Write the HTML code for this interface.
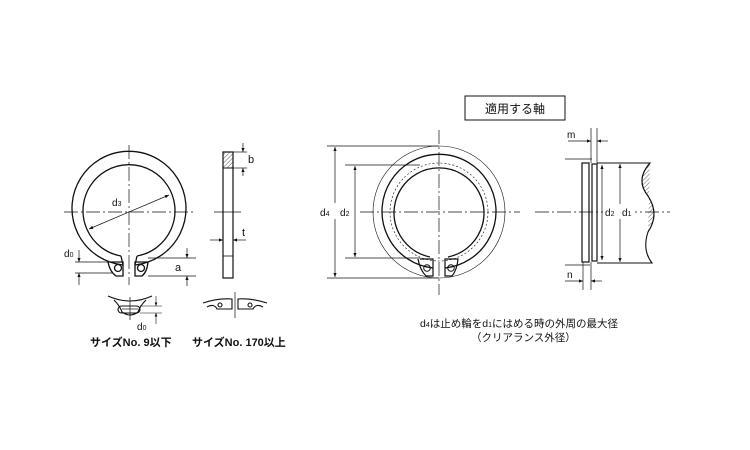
<!DOCTYPE html>
<html><head><meta charset="utf-8"><style>
html,body{margin:0;padding:0;background:#fff}
svg{display:block}
text{font-family:"Liberation Sans","Noto Sans CJK JP",sans-serif;fill:#111}
</style></head><body>
<svg width="750" height="450" viewBox="0 0 750 450" xmlns="http://www.w3.org/2000/svg">
<defs>
<marker id="a" viewBox="0 0 10 10" refX="10" refY="5" markerWidth="6" markerHeight="6" orient="auto-start-reverse"><path d="M0,1 L10,5 L0,9z" fill="#111"/></marker>
<pattern id="h" width="3" height="3" patternUnits="userSpaceOnUse" patternTransform="rotate(45)"><line x1="0" y1="0" x2="0" y2="3" stroke="#333" stroke-width="0.8"/></pattern>
</defs>
<g stroke="#111" fill="none" stroke-width="1.3">
<!-- left ring -->
<path d="M123,265 A57,57 0 1 1 135,265" />
<path d="M121,256 A46,46 0 1 1 137,256" />
<path d="M121,256 L123,265 M137,256 L135,265"/>
<path d="M110,262 L123,262 L123,276 L116,276 Q110,272 108,262" />
<path d="M135,262 L148,262 Q147,272 142,276 L135,276 Z" />
<circle cx="118" cy="268" r="3.5"/><circle cx="141" cy="268" r="3.5"/>
</g>
<g stroke="#111" stroke-width="0.7" fill="none">
<line x1="129" y1="145" x2="129" y2="285" stroke-dasharray="14,3,2,3"/>
<line x1="64" y1="212" x2="194" y2="212" stroke-dasharray="14,3,2,3"/>
<line x1="89" y1="229" x2="169" y2="195" marker-start="url(#a)" marker-end="url(#a)"/>
<line x1="75" y1="262" x2="110" y2="262"/><line x1="75" y1="273" x2="112" y2="273"/>
<line x1="79" y1="250" x2="79" y2="262" marker-end="url(#a)"/><line x1="79" y1="285" x2="79" y2="273" marker-end="url(#a)"/>
<line x1="148" y1="258" x2="196" y2="258"/><line x1="148" y1="276" x2="196" y2="276"/>
<line x1="187" y1="248" x2="187" y2="258" marker-end="url(#a)"/><line x1="187" y1="286" x2="187" y2="276" marker-end="url(#a)"/>
</g>
<text x="112" y="206" font-size="10">d<tspan font-size="7">3</tspan></text>
<text x="64" y="257" font-size="10">d<tspan font-size="7">0</tspan></text>
<text x="175" y="271" font-size="11">a</text>
<!-- side view -->
<rect x="223" y="152" width="10" height="126" fill="none" stroke="#111" stroke-width="1.2"/>
<rect x="223" y="152" width="10" height="16" fill="url(#h)" stroke="#111" stroke-width="1"/>
<line x1="223" y1="256" x2="233" y2="256" stroke="#111" stroke-width="0.8"/>
<g stroke="#111" stroke-width="0.7" fill="none">
<line x1="214" y1="212" x2="241" y2="212"/>
<line x1="233" y1="152" x2="247" y2="152"/><line x1="233" y1="168" x2="247" y2="168"/>
<line x1="243" y1="143" x2="243" y2="152" marker-end="url(#a)"/><line x1="243" y1="176" x2="243" y2="168" marker-end="url(#a)"/>
<line x1="210" y1="240" x2="223" y2="240" marker-end="url(#a)"/><line x1="246" y1="240" x2="233" y2="240" marker-end="url(#a)"/>
</g>
<text x="248" y="163" font-size="11">b</text>
<text x="242" y="236" font-size="11">t</text>
<!-- small details -->
<g stroke="#111" stroke-width="1.1" fill="none">
<path d="M108,296 Q130,306 152,296"/>
<path d="M114,300 Q120,306 122,312 Q130,318 138,312 Q140,306 146,300"/>
<rect x="118" y="306" width="22" height="7" rx="3.5"/>
<line x1="130" y1="297" x2="130" y2="320" stroke-width="0.7"/>
<line x1="122" y1="309" x2="138" y2="309" stroke-width="0.7"/>
<line x1="140" y1="306" x2="162" y2="306" stroke-width="0.6"/><line x1="140" y1="313" x2="162" y2="313" stroke-width="0.6"/>
<line x1="156" y1="296" x2="156" y2="306" stroke-width="0.6" marker-end="url(#a)"/><line x1="156" y1="324" x2="156" y2="313" stroke-width="0.6" marker-end="url(#a)"/>
<path d="M203,303 Q218,298 232,299 L232,309 L217,309 Q214,303 207,307"/>
<path d="M267,303 Q252,298 238,299 L238,309 L253,309 Q256,303 263,307"/>
<circle cx="220" cy="305" r="2"/><circle cx="250" cy="305" r="2"/>
<line x1="235" y1="292" x2="235" y2="318" stroke-width="0.7"/>
</g>
<text x="137" y="330" font-size="10">d<tspan font-size="7">0</tspan></text>
<text x="90" y="346" font-size="11" font-weight="bold">サイズNo. 9以下</text>
<text x="192" y="346" font-size="11" font-weight="bold">サイズNo. 170以上</text>
<!-- middle ring -->
<rect x="465" y="96" width="100" height="24" fill="none" stroke="#111" stroke-width="1"/>
<text x="515" y="113" font-size="12" text-anchor="middle">適用する軸</text>
<g stroke="#111" fill="none">
<circle cx="439" cy="212" r="66" stroke-width="0.6"/>
<path d="M433,268 A57,57 0 1 1 445,268" stroke-width="1.3"/>
<path d="M430,257 A45,45 0 1 1 448,257" stroke-width="1.3"/>
<circle cx="439" cy="212" r="49" stroke-width="0.6" stroke-dasharray="2,2"/>
<path d="M420,259 L433,259 L433,276 L426,276 Q420,270 418,259" stroke-width="1.2"/>
<path d="M445,259 L458,259 Q457,270 452,276 L445,276 Z" stroke-width="1.2"/>
<circle cx="427" cy="268" r="3.3" stroke-width="1"/><circle cx="451" cy="268" r="3.3" stroke-width="1"/>
<g stroke-width="0.7">
<line x1="439" y1="130" x2="439" y2="295" stroke-dasharray="14,3,2,3"/>
<line x1="360" y1="212" x2="520" y2="212" stroke-dasharray="14,3,2,3"/>
<line x1="327" y1="146" x2="439" y2="146"/><line x1="327" y1="278" x2="439" y2="278"/>
<line x1="345" y1="165" x2="420" y2="165"/><line x1="345" y1="258" x2="420" y2="258"/>
<line x1="335" y1="147" x2="335" y2="277" marker-start="url(#a)" marker-end="url(#a)"/>
<line x1="355" y1="166" x2="355" y2="257" marker-start="url(#a)" marker-end="url(#a)"/>
</g>
</g>
<rect x="317" y="203" width="34" height="16" fill="#fff"/>
<text x="320" y="216" font-size="10">d<tspan font-size="7">4</tspan></text>
<text x="340" y="216" font-size="10">d<tspan font-size="7">2</tspan></text>
<!-- right side view -->
<g stroke="#111" fill="none">
<rect x="582" y="163" width="7" height="99" stroke-width="1.2"/>
<rect x="592" y="164" width="5" height="97" stroke-width="1.2"/>
<path d="M597,163 L650,163 Q635,180 648,196 Q660,214 648,232 Q642,250 652,263 L597,263" stroke-width="1.1"/>
<path d="M650,163 Q635,180 648,196 Q660,214 648,232" fill="url(#h)" stroke-width="1"/>
<g stroke-width="0.7">
<line x1="535" y1="212" x2="670" y2="212" stroke-dasharray="14,3,2,3"/>
<line x1="565" y1="159" x2="592" y2="159"/><line x1="565" y1="265" x2="590" y2="265"/>
<line x1="591" y1="128" x2="591" y2="163"/><line x1="597" y1="128" x2="597" y2="163"/>
<line x1="568" y1="141" x2="591" y2="141" marker-end="url(#a)"/><line x1="608" y1="141" x2="597" y2="141" marker-end="url(#a)"/>
<line x1="583" y1="262" x2="583" y2="290"/><line x1="591" y1="262" x2="591" y2="290"/>
<line x1="565" y1="281" x2="583" y2="281" marker-end="url(#a)"/><line x1="602" y1="281" x2="591" y2="281" marker-end="url(#a)"/>
<line x1="602" y1="165" x2="602" y2="260" marker-start="url(#a)" marker-end="url(#a)"/>
<line x1="620" y1="164" x2="620" y2="262" marker-start="url(#a)" marker-end="url(#a)"/>
</g>
</g>
<rect x="603" y="204" width="32" height="15" fill="#fff"/>
<text x="605" y="216" font-size="10">d<tspan font-size="7">2</tspan></text>
<text x="622" y="216" font-size="10">d<tspan font-size="7">1</tspan></text>
<text x="567" y="138" font-size="10">m</text>
<text x="567" y="278" font-size="10">n</text>
<text x="420" y="327" font-size="10.5">d<tspan font-size="7">4</tspan>は止め輪をd<tspan font-size="7">1</tspan>にはめる時の外周の最大径</text>
<text x="471" y="341" font-size="10.5">（クリアランス外径）</text>
</svg>
</body></html>
